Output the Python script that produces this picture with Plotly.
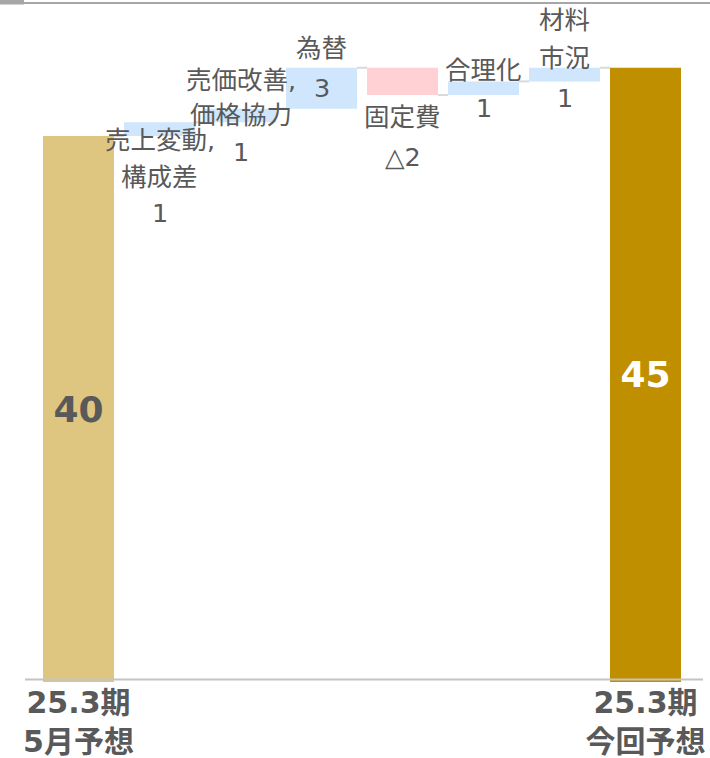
import plotly.graph_objects as go

# ---- data ----
categories = ["25.3期<br>5月予想", "売上変動,構成差", "売価改善,価格協力", "為替",
              "固定費", "合理化", "材料市況", "25.3期<br>今回予想"]
values = [40, 1, 1, 3, -2, 1, 1, 45]
measures = ["absolute", "relative", "relative", "relative",
            "relative", "relative", "relative", "total"]
value_labels = ["40", "1", "1", "3", "△2", "1", "1", "45"]
label_lines = [
    None,
    ["売上変動,", "構成差", "1"],
    ["売価改善,", "価格協力", "1"],
    ["為替", "3"],
    ["固定費", "△2"],
    ["合理化", "1"],
    ["材料", "市況", "1"],
    None,
]

# ---- styles ----
W, H = 710, 758
ML, MR, MT, MB = 38, 24, 4, 76
PX_PER_UNIT = 13.65
plot_h = H - MT - MB
plot_w = W - ML - MR
ymax = plot_h / PX_PER_UNIT
BW = 71 / 81

TAN = "#dfc680"
GOLD = "#bf8f00"
BLUE = "#cfe6fc"
PINK = "#ffd1d4"
TXT = "#595959"
FONT = "DejaVu Sans, Noto Sans CJK JP, sans-serif"

# pixel offsets (downward) of each label line from the bar top
line_offsets = [None, [18, 55, 91], [-29, 6, 43], [-20, 20], [49, 89],
                [-11, 27], [-48, -10, 30], None]

# ---- compute bases ----
bases, heights, ends = [], [], []
running = 0
for v, m in zip(values, measures):
    if m == "absolute":
        bases.append(0); heights.append(v); running = v
    elif m == "total":
        bases.append(0); heights.append(running)
    else:
        bases.append(running); heights.append(v); running += v
    ends.append(running)

colors = []
for v, m in zip(values, measures):
    if m == "absolute":
        colors.append(TAN)
    elif m == "total":
        colors.append(GOLD)
    else:
        colors.append(BLUE if v >= 0 else PINK)

xs = list(range(len(categories)))
bar_text = [value_labels[i] if measures[i] != "relative" else "" for i in xs]
text_colors = [TXT if measures[i] == "absolute" else "white" for i in xs]

fig = go.Figure()
fig.add_trace(go.Bar(
    x=xs, y=heights, base=bases,
    marker=dict(color=colors, line=dict(width=0)),
    width=BW,
    text=bar_text, textposition="inside", insidetextanchor="middle",
    textangle=0,
    textfont=dict(family=FONT, size=36, color=text_colors, weight="bold"),
    hoverinfo="skip",
))

shapes = []
# connectors
for i in range(len(xs) - 1):
    lvl = ends[i]
    shapes.append(dict(type="line", xref="x", yref="y",
                       x0=i + BW / 2, x1=i + 1 - BW / 2, y0=lvl, y1=lvl,
                       line=dict(color="#d9d9d9", width=2)))

def px_x(p):
    return (p - ML) / plot_w

def px_y(p):
    return (H - MB - p) / plot_h

# baseline axis line
shapes.append(dict(type="line", xref="paper", yref="paper",
                   x0=px_x(25), x1=px_x(703), y0=px_y(679.5), y1=px_y(679.5),
                   line=dict(color="#c4c4c4", width=2), layer="above"))
# top border decoration
shapes.append(dict(type="line", xref="paper", yref="paper",
                   x0=px_x(24), x1=px_x(712), y0=px_y(3), y1=px_y(3),
                   line=dict(color="#a6a6a6", width=2)))
shapes.append(dict(type="rect", xref="paper", yref="paper",
                   x0=px_x(-2), x1=px_x(24), y0=px_y(4.5), y1=px_y(-1),
                   fillcolor="#a6a6a6", line=dict(width=0)))

annotations = []
for i in xs:
    lines = label_lines[i]
    if not lines:
        continue
    top = max(bases[i], bases[i] + heights[i])
    for txt, off in zip(lines, line_offsets[i]):
        annotations.append(dict(
            x=i, y=top, xref="x", yref="y", text=txt, showarrow=False,
            yshift=-off, yanchor="middle", xanchor="center",
            font=dict(family=FONT, size=25.5, color=TXT)))

fig.update_layout(
    width=W, height=H,
    margin=dict(l=ML, r=MR, t=MT, b=MB, pad=0, autoexpand=False),
    paper_bgcolor="white", plot_bgcolor="white",
    showlegend=False,
    bargap=1 - BW,
    shapes=shapes, annotations=annotations,
    xaxis=dict(range=[-0.5, len(xs) - 0.5], tickvals=[0, len(xs) - 1],
               ticktext=[categories[0], categories[-1]],
               tickfont=dict(family=FONT, size=30, color=TXT, weight="bold"),
               showgrid=False, zeroline=False, showline=False, ticks="",
               automargin=False, fixedrange=True),
    yaxis=dict(range=[0, ymax], visible=False, showgrid=False, zeroline=False,
               automargin=False, fixedrange=True),
    uniformtext=dict(minsize=8, mode="show"),
)

fig.write_html(
    "out.html",
    config={"displayModeBar": False, "staticPlot": True},
    post_script="document.body.style.margin='0';document.body.style.overflow='hidden';",
)
